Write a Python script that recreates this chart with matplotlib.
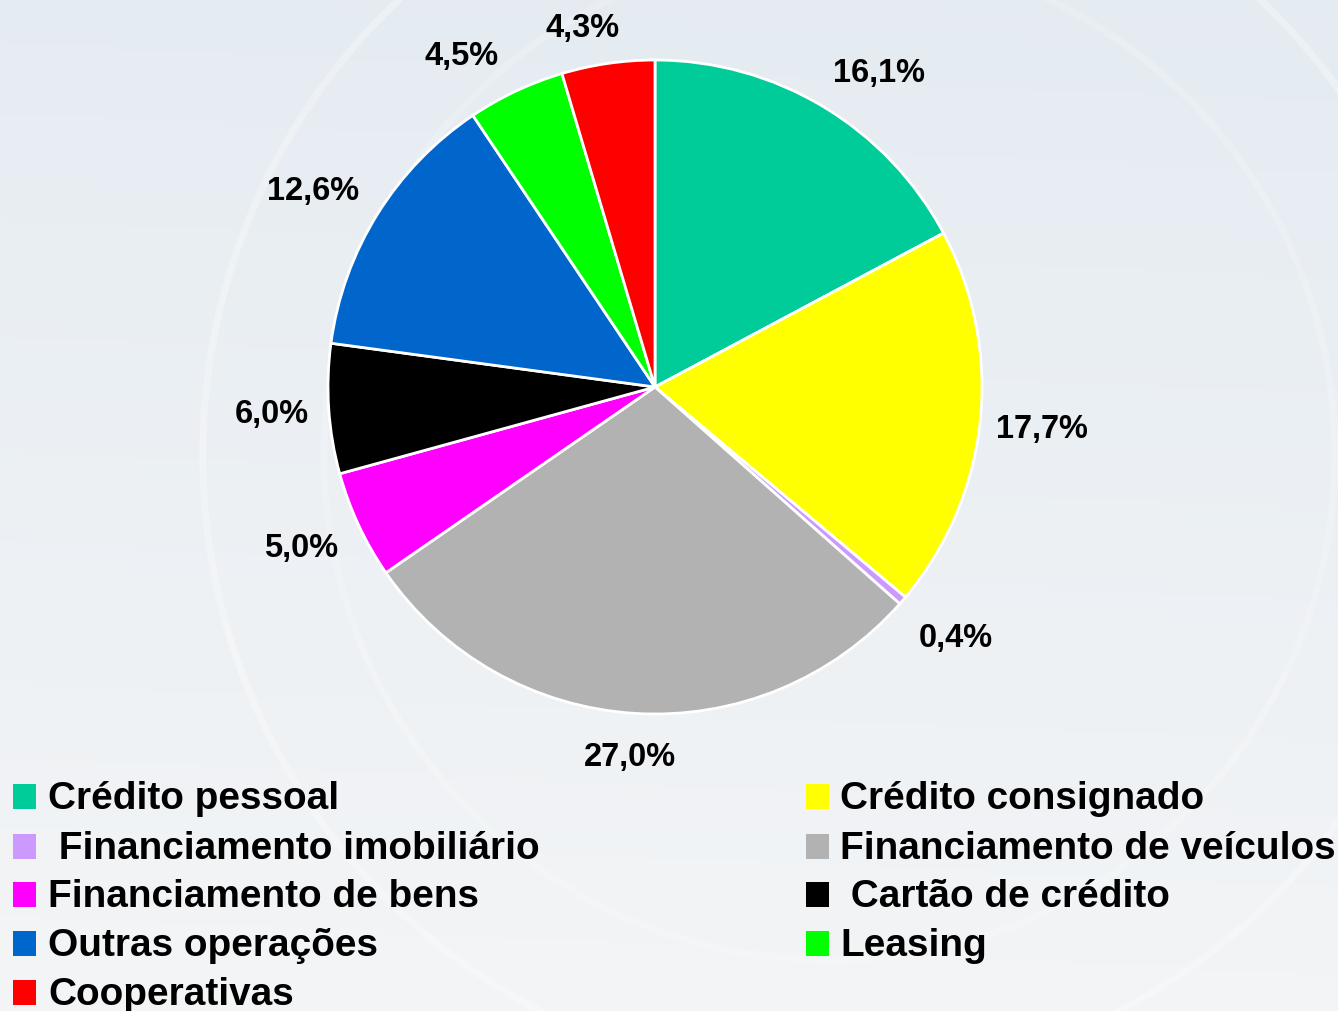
import numpy as np
import matplotlib
matplotlib.use("Agg")
import matplotlib.pyplot as plt
from matplotlib.patches import Rectangle

categories = ["Crédito pessoal", "Crédito consignado", " Financiamento imobiliário",
              "Financiamento de veículos", "Financiamento de bens", " Cartão de crédito",
              "Outras operações", "Leasing", "Cooperativas"]
values = [16.1, 17.7, 0.4, 27.0, 5.0, 6.0, 12.6, 4.5, 4.3]
value_labels = ["16,1%", "17,7%", "0,4%", "27,0%", "5,0%", "6,0%", "12,6%", "4,5%", "4,3%"]
colors = ["#00CC99", "#FFFF00", "#CC99FF", "#B2B2B2", "#FF00FF", "#000000",
          "#0066CC", "#00FF00", "#FF0000"]

# label layout tweaks (angle shift in degrees, radius factor)
lab_dang = [-4.6, -0.3, 0.9, -0.4, -0.5, 0.2, 2.2, 5.1, 3.2]
lab_rad = [1.18, 1.19, 1.20, 1.135, 1.19, 1.175, 1.205, 1.17, 1.12]

W, H = 1338, 1011
fig = plt.figure(figsize=(W / 100, H / 100), dpi=100)

# background gradient
bg = fig.add_axes([0, 0, 1, 1])
yy, xx = np.mgrid[0:1:200j, 0:1:260j]
c1 = np.array([0.89, 0.92, 0.945])
c2 = np.array([0.955, 0.96, 0.965])
t = np.clip(yy * 0.85 + (1 - xx) * 0.05 + 0.1, 0, 1)
img = c1[None, None, :] * (1 - t[..., None]) + c2[None, None, :] * t[..., None]
bg.imshow(img, extent=[0, 1, 0, 1], aspect="auto", origin="upper")
theta = np.linspace(0, 2 * np.pi, 400)
for r, a in [(0.62, 0.3), (0.50, 0.2)]:
    bg.plot(0.62 + r * np.cos(theta) * H / W, 0.55 + r * np.sin(theta), color="white",
            lw=5, alpha=a)
bg.set_xlim(0, 1)
bg.set_ylim(0, 1)
bg.axis("off")

# pie axes: center (655,387), radius 327 px
cx, cy, R = 655, 387, 327
ax = fig.add_axes([(cx - R) / W, (H - cy - R) / H, 2 * R / W, 2 * R / H])
wedges, _ = ax.pie(values, colors=colors, startangle=90, counterclock=False,
                   radius=1.0, wedgeprops=dict(edgecolor="white", linewidth=2.0))
ax.set_xlim(-1, 1)
ax.set_ylim(-1, 1)
ax.set_aspect("equal")
ax.axis("off")

for w, lab, da, rf in zip(wedges, value_labels, lab_dang, lab_rad):
    mid = np.deg2rad((w.theta1 + w.theta2) / 2 + da)
    ax.text(rf * np.cos(mid), rf * np.sin(mid), lab, ha="center", va="center",
            fontsize=23.5, fontweight="bold", family="Liberation Sans", clip_on=False)

# legend (row-wise, two columns)
base_y = [809, 859, 907, 956, 1005]
col_sq_x = [13, 806]
col_tx_x = [48, 840]
for i, (name, col) in enumerate(zip(categories, colors)):
    row, c = divmod(i, 2)
    yb = base_y[row]
    fig.patches.append(Rectangle((col_sq_x[c] / W, (H - yb) / H), 23 / W, 25 / H,
                                 transform=fig.transFigure, facecolor=col,
                                 edgecolor="none"))
    fig.text(col_tx_x[c] / W, (H - yb) / H, name, ha="left", va="baseline",
             fontsize=27.9, fontweight="bold", family="Liberation Sans")

fig.savefig("out.png", dpi=100)
